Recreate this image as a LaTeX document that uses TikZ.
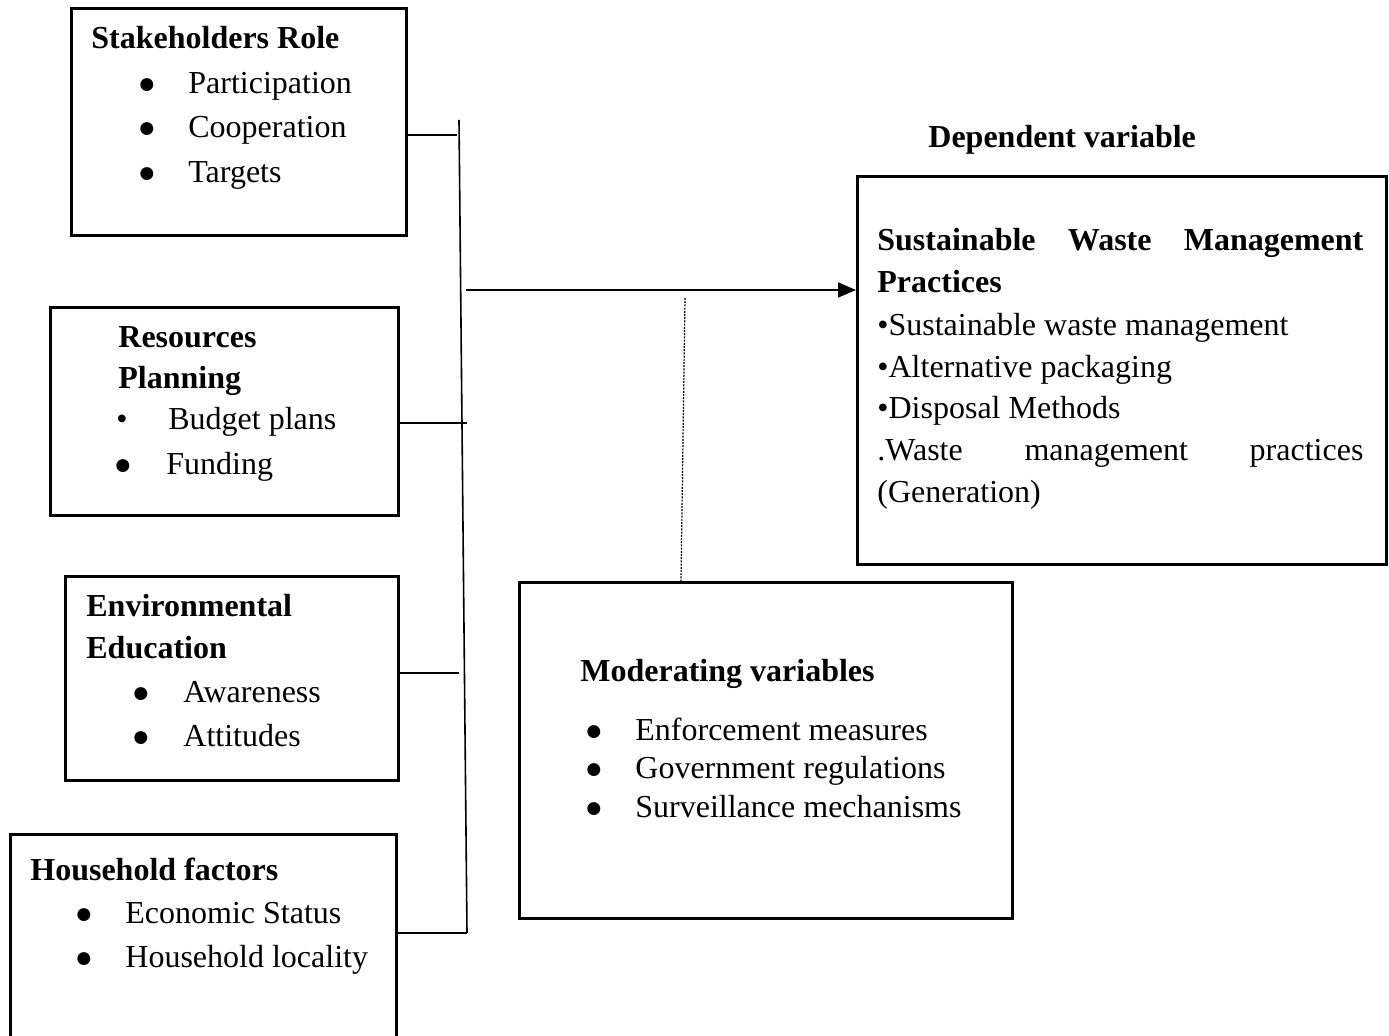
\documentclass[tikz,border=0pt]{standalone}
\usepackage{fontspec}
\setmainfont{Liberation Serif}
\usetikzlibrary{arrows.meta}

\tikzset{
  framebox/.style={draw, line width=1.4pt, anchor=north west, inner sep=0pt},
  body/.style={anchor=base west, inner sep=0pt, font=\fontsize{16}{19}\selectfont},
  heading/.style={body, font=\fontsize{16}{19}\selectfont\bfseries},
  bigdot/.style={anchor=center, inner sep=0pt, font=\fontsize{15}{16}\selectfont},
  smalldot/.style={anchor=base, inner sep=0pt, font=\fontsize{16}{19}\selectfont},
  link/.style={line width=0.8pt},
}

\begin{document}
\begin{tikzpicture}[x=0.5pt, y=-0.5pt]
  \useasboundingbox (0,0) rectangle (1389,1036);
  % box: name, left, top, width, height
  \newcommand{\varbox}[5]{\node[framebox, minimum width=#4*0.5pt, minimum height=#5*0.5pt] (#1) at (#2,#3) {};}
  % bullet line: name, bullet x, text x, baseline, text
  \newcommand{\dotline}[5]{%
    \node[bigdot] (#1-dot) at (#2,#4-8) {●};
    \node[body] (#1) at (#3,#4) {#5};}

  % Independent variables
  \varbox{stake}{70}{7}{335}{227}
  \node[heading] (stake-head) at (91,49) {Stakeholders Role};
  \dotline{stake-1}{147}{188}{94}{Participation}
  \dotline{stake-2}{147}{188}{138}{Cooperation}
  \dotline{stake-3}{147}{188}{183}{Targets}

  \varbox{res}{49}{306}{348}{208}
  \node[heading] (res-head1) at (118,348) {Resources};
  \node[heading] (res-head2) at (118,389) {Planning};
  \node[smalldot] (res-1-dot) at (122,430) {•};
  \node[body] (res-1) at (168,430) {Budget plans};
  \dotline{res-2}{123}{166}{475}{Funding}

  \varbox{env}{64}{575}{333}{204}
  \node[heading] (env-head1) at (86,617) {Environmental};
  \node[heading] (env-head2) at (86,659) {Education};
  \dotline{env-1}{141}{183}{703}{Awareness}
  \dotline{env-2}{141}{183}{747}{Attitudes}

  \varbox{house}{9}{833}{386}{215}
  \node[heading] (house-head) at (30,881) {Household factors};
  \dotline{house-1}{84}{125}{924}{Economic Status}
  \dotline{house-2}{84}{125}{968}{Household locality}

  % Dependent variable
  \node[heading] (dep-label) at (928,148) {Dependent variable};
  \varbox{dep}{856}{175}{529}{388}
  \node[heading] (dep-head1) at (877,251) {\hbox to 243pt{Sustainable\hfill Waste\hfill Management}};
  \node[heading] (dep-head2) at (877,293) {Practices};
  \node[body] (dep-1) at (877,336) {•Sustainable waste management};
  \node[body] (dep-2) at (877,378) {•Alternative packaging};
  \node[body] (dep-3) at (877,419) {•Disposal Methods};
  \node[body] (dep-4) at (877,461) {\hbox to 243pt{.Waste\hfill management\hfill practices}};
  \node[body] (dep-5) at (877,503) {(Generation)};

  % Moderating variables
  \varbox{mod}{518}{581}{493}{336}
  \node[heading] (mod-head) at (580,682) {Moderating variables};
  \dotline{mod-1}{594}{635}{741}{Enforcement measures}
  \dotline{mod-2}{594}{635}{779}{Government regulations}
  \dotline{mod-3}{594}{635}{818}{Surveillance mechanisms}

  % Connectors
  \coordinate (bus-top) at (459,120);
  \coordinate (bus-bot) at (467,933);
  \draw[link] (bus-top) -- (bus-bot);
  \coordinate (j-stake) at (457,135);
  \draw[link] (stake.east |- j-stake) -- (j-stake);
  \coordinate (j-res) at (467,423);
  \draw[link] (res.east |- j-res) -- (j-res);
  \coordinate (j-env) at (459,673);
  \draw[link] (env.east |- j-env) -- (j-env);
  \draw[link] (house.east |- bus-bot) -- (bus-bot);
  \coordinate (arrow-start) at (466,290);
  \draw[link, -{Triangle[length=9pt, width=7.5pt]}] (arrow-start) -- (dep.west |- arrow-start);
  \coordinate (mod-link) at (685,298);
  \draw[line width=0.6pt, dash pattern=on 1pt off 0.6pt] (mod-link) -- ([xshift=-2pt]mod-link |- mod.north);
\end{tikzpicture}
\end{document}
